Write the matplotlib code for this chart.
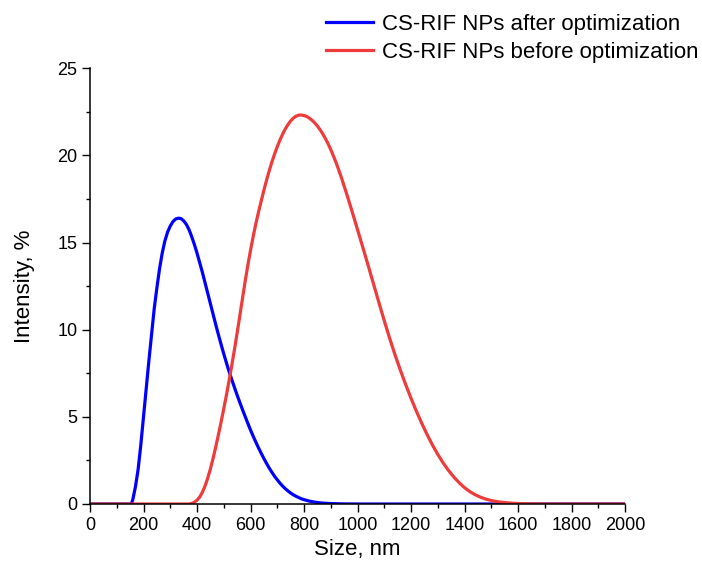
import matplotlib.pyplot as plt

plt.rcParams['font.family'] = ['Liberation Sans', 'DejaVu Sans']

# size distribution after optimization (nm, intensity %)
size_after = [0, 150, 155, 160, 170, 180, 190, 200, 210, 220, 230, 240, 250, 260, 270,
              280, 290, 300, 310, 320, 330, 340, 350, 360, 370, 380, 390, 400, 410,
              420, 430, 440, 450, 460, 470, 480, 490, 500, 510, 520, 530, 540, 550,
              560, 570, 580, 590, 600, 610, 620, 630, 640, 650, 660, 670, 680, 690,
              700, 710, 720, 730, 740, 750, 760, 770, 780, 790, 800, 820, 840, 860,
              880, 900, 950, 1000, 2000]
int_after = [0, 0, 0.02, 0.25, 1.0, 2.0, 3.4, 5.0, 6.6, 8.2, 9.7, 11.2, 12.4, 13.5, 14.4,
             15.1, 15.6, 15.95, 16.2, 16.35, 16.4, 16.38, 16.25, 16.05, 15.75, 15.35, 14.9, 14.4, 13.85,
             13.3, 12.7, 12.1, 11.5, 10.9, 10.3, 9.72, 9.16, 8.62, 8.1, 7.6, 7.14, 6.69, 6.25,
             5.83, 5.42, 5.02, 4.63, 4.25, 3.89, 3.55, 3.22, 2.91, 2.61, 2.33, 2.06, 1.82, 1.59,
             1.39, 1.2, 1.03, 0.88, 0.75, 0.63, 0.53, 0.445, 0.37, 0.3, 0.25, 0.165, 0.106, 0.067,
             0.041, 0.025, 0.005, 0, 0]

# size distribution before optimization
size_before = [0, 370, 380, 390, 400, 410, 420, 430, 440, 450, 460, 470, 480, 490, 500,
               510, 520, 530, 540, 550, 560, 570, 580, 590, 600, 610, 620, 630, 640,
               650, 660, 670, 680, 690, 700, 710, 720, 730, 740, 750, 760, 770, 780,
               790, 800, 810, 820, 830, 840, 850, 860, 870, 880, 890, 900, 920, 940,
               960, 980, 1000, 1020, 1040, 1060, 1080, 1100, 1120, 1140, 1160, 1180,
               1200, 1220, 1240, 1260, 1280, 1300, 1320, 1340, 1360, 1380, 1400, 1420,
               1440, 1460, 1480, 1500, 1520, 1540, 1560, 1580, 1600, 1620, 1650, 1700, 2000]
int_before = [0, 0, 0.03, 0.1, 0.22, 0.4, 0.67, 1.03, 1.48, 2.01, 2.61, 3.27, 3.97, 4.7, 5.46,
              6.25, 7.08, 7.95, 8.86, 9.81, 10.79, 11.79, 12.77, 13.7, 14.55, 15.35, 16.08, 16.75, 17.38,
              18.0, 18.58, 19.12, 19.62, 20.08, 20.5, 20.88, 21.22, 21.52, 21.77, 21.98, 22.14, 22.25, 22.31,
              22.32, 22.29, 22.24, 22.14, 22.02, 21.87, 21.69, 21.48, 21.24, 20.97, 20.67, 20.34, 19.59, 18.72,
              17.77, 16.77, 15.75, 14.72, 13.68, 12.62, 11.56, 10.52, 9.52, 8.57, 7.69, 6.86,
              6.07, 5.33, 4.64, 3.99, 3.39, 2.85, 2.36, 1.93, 1.55, 1.22, 0.94, 0.71,
              0.53, 0.39, 0.28, 0.2, 0.14, 0.1, 0.07, 0.045, 0.028, 0.016, 0.006, 0, 0]

x_ticks = [0, 200, 400, 600, 800, 1000, 1200, 1400, 1600, 1800, 2000]
y_ticks = [0, 5, 10, 15, 20, 25]

fig = plt.figure(figsize=(7.02, 5.70), dpi=100)
ax = fig.add_axes([90/702, 1 - 504/570, 535/702, (504 - 68.3)/570])

ax.plot(size_after, int_after, color='#0000FF', lw=2.3, solid_joinstyle='round',
        label='CS-RIF NPs after optimization')
ax.plot(size_before, int_before, color='#EE3B3B', lw=2.3, solid_joinstyle='round',
        label='CS-RIF NPs before optimization')

ax.set_xlim(0, 2000)
ax.set_ylim(0, 25)
ax.set_xticks(x_ticks)
ax.set_yticks(y_ticks)
ax.set_xticks(range(100, 2000, 200), minor=True)
ax.set_yticks([2.5, 7.5, 12.5, 17.5, 22.5], minor=True)
ax.tick_params(which='major', direction='out', length=5.5, width=1, labelsize=13)
ax.tick_params(which='minor', direction='out', length=3, width=1)
for s in ['top', 'right']:
    ax.spines[s].set_visible(False)
for s in ['left', 'bottom']:
    ax.spines[s].set_linewidth(1.1)

ax.set_xlabel('Size, nm', fontsize=16, labelpad=4)
ax.set_ylabel('Intensity, %', fontsize=16, labelpad=16)

fig.legend(loc='upper left', bbox_to_anchor=(326/702, 1 - 14/570), frameon=False,
           fontsize=16, handlelength=2.1, handletextpad=0.4, labelspacing=0.3,
           borderpad=0, borderaxespad=0)

plt.savefig('out.png', dpi=100)
